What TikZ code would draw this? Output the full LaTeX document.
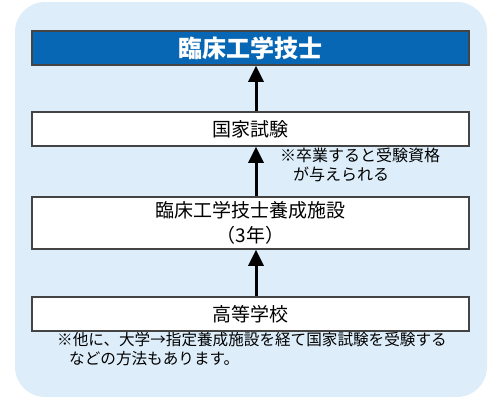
\documentclass[tikz,border=0pt]{standalone}
\usepackage{fontspec}
\newfontfamily\jp{Noto Sans CJK JP}
\usetikzlibrary{arrows.meta}
\definecolor{bgblue}{HTML}{DDEEFA}
\definecolor{titleblue}{HTML}{0767B4}
\definecolor{boxline}{HTML}{444444}
\begin{document}
\begin{tikzpicture}[x=1pt,y=-1pt,
  stepbox/.style={draw=boxline, line width=1.5pt, fill=white, minimum width=437pt, inner sep=0pt, align=center, font=\jp\fontsize{19}{25}\selectfont},
  upflow/.style={-{Triangle[width=15pt,length=16pt]}, line width=3pt, black},
  notetext/.style={font=\jp\fontsize{16}{19}\selectfont, align=left, inner sep=0pt}]
\useasboundingbox (0,0) rectangle (500,400);
\fill[bgblue, rounded corners=30pt] (15,2) rectangle (487,397);
\node[stepbox, fill=titleblue, text=white, minimum height=34pt, font=\jp\bfseries\fontsize{24}{26}\selectfont] (title) at (250.5,48) {臨床工学技士};
\node[stepbox, minimum height=34pt] (exam) at (250.5,129) {国家試験};
\node[stepbox, minimum height=52pt] (school) at (250.5,223) {臨床工学技士養成施設\\（3年）};
\node[stepbox, minimum height=34pt] (high) at (250.5,314) {高等学校};
\draw[upflow] (exam.north -| 256,0) -- (title.south -| 256,0);
\draw[upflow] (school.north -| 256,0) -- (exam.south -| 256,0);
\draw[upflow] (high.north -| 256,0) -- (school.south -| 256,0);
\node[notetext, anchor=north west] (note1) at (280,148) {※卒業すると受験資格\\\hspace*{13pt}が与えられる};
\node[notetext, font=\jp\fontsize{15.6}{19}\selectfont, anchor=north west] (note2) at (57,332) {※他に、大学→指定養成施設を経て国家試験を受験する\\\hspace*{12pt}などの方法もあります。};
\end{tikzpicture}
\end{document}
